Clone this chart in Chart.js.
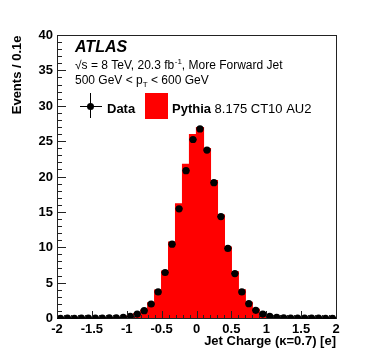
<!DOCTYPE html>
<html>
<head>
<meta charset="utf-8">
<script src="https://cdn.jsdelivr.net/npm/chart.js@4.4.1/dist/chart.umd.min.js"></script>
<style>
  html, body { margin: 0; padding: 0; background: #fff; }
  #wrap { width: 374px; height: 355px; }
</style>
</head>
<body>
<div id="wrap"><canvas id="c" width="374" height="355"></canvas></div>
<script>
// bin centres of the jet charge histogram (bin width 0.1 e)
const binCenters = [
  -1.95, -1.85, -1.75, -1.65, -1.55, -1.45, -1.35, -1.25, -1.15, -1.05,
  -0.95, -0.85, -0.75, -0.65, -0.55, -0.45, -0.35, -0.25, -0.15, -0.05,
   0.05,  0.15,  0.25,  0.35,  0.45,  0.55,  0.65,  0.75,  0.85,  0.95,
   1.05,  1.15,  1.25,  1.35,  1.45,  1.55,  1.65,  1.75,  1.85,  1.95
];
const binHalfWidth = 0.05;

// Data (black points)
const dataValues = [
  0.03, 0.04, 0.03, 0.05, 0.04, 0.05, 0.06, 0.08, 0.10, 0.15,
  0.30, 0.62, 1.10, 2.05, 3.75, 6.50, 10.5, 15.5, 20.9, 25.3,
  26.8, 23.8, 19.2, 14.4, 9.90, 6.35, 3.75, 2.10, 1.15, 0.62,
  0.30, 0.15, 0.10, 0.07, 0.06, 0.05, 0.04, 0.04, 0.03, 0.03
];

// Pythia 8.175 CT10 AU2 (red histogram)
const mcValues = [
  0.03, 0.04, 0.04, 0.05, 0.05, 0.06, 0.07, 0.09, 0.12, 0.18,
  0.35, 0.70, 1.20, 2.20, 4.00, 6.70, 10.8, 16.2, 21.8, 26.0,
  27.0, 24.0, 19.5, 14.6, 10.1, 6.60, 4.05, 2.30, 1.30, 0.70,
  0.35, 0.18, 0.12, 0.09, 0.07, 0.06, 0.05, 0.04, 0.04, 0.03
];

const yTicks = [0, 5, 10, 15, 20, 25, 30, 35, 40];
const xTicks = [-2, -1.5, -1, -0.5, 0, 0.5, 1, 1.5, 2];

const FONT = '"Liberation Sans", Arial, Helvetica, sans-serif';

const points = binCenters.map((x, i) => ({ x: x, y: dataValues[i] }));
const bars = binCenters.map((x, i) => ({ x: x, y: mcValues[i] }));

// ATLAS label, legend, frame, inner ticks and x error bars
// (lines are drawn as 1px filled rects)
const atlasDecor = {
  id: 'atlasDecor',
  afterDraw(chart) {
    const ctx = chart.ctx;
    const xs = chart.scales.x, ys = chart.scales.y;
    ctx.save();

    // ATLAS label
    ctx.fillStyle = '#000';
    ctx.textBaseline = 'alphabetic';
    ctx.textAlign = 'left';
    ctx.font = 'italic bold 16px ' + FONT;
    ctx.fillText('ATLAS', 75, 52);

    ctx.font = '12px ' + FONT;
    let x = 75, y = 69;
    let s = '\u221As = 8 TeV, 20.3 fb';
    ctx.fillText(s, x, y);
    x += ctx.measureText(s).width;
    ctx.font = '8px ' + FONT;
    ctx.fillText('-1', x + 0.5, y - 5);
    x += ctx.measureText('-1').width + 0.5;
    ctx.font = '12px ' + FONT;
    ctx.fillText(', More Forward Jet', x, y);

    x = 75; y = 84;
    s = '500 GeV < p';
    ctx.fillText(s, x, y);
    x += ctx.measureText(s).width;
    ctx.font = '8px ' + FONT;
    ctx.fillText('T', x, y + 3);
    x += ctx.measureText('T').width;
    ctx.font = '12px ' + FONT;
    ctx.fillText(' < 600 GeV', x, y);

    // legend
    ctx.font = 'bold 13px ' + FONT;
    ctx.fillText('Data', 107, 113);
    ctx.fillText('Pythia', 172, 113);
    const w = ctx.measureText('Pythia ').width;
    ctx.font = '13px ' + FONT;
    ctx.fillText('8.175 CT10 AU2', 172 + w, 113);

    ctx.fillStyle = '#ff0000';
    ctx.fillRect(145, 93, 23, 26);

    ctx.fillStyle = '#000';
    ctx.fillRect(80, 106, 22, 1);
    ctx.fillRect(90, 93, 1, 25);
    ctx.beginPath();
    ctx.arc(90.5, 106.5, 3.5, 0, Math.PI * 2);
    ctx.fill();

    // frame
    const L = Math.round(xs.getPixelForValue(-2));
    const R = Math.round(xs.getPixelForValue(2));
    const T = Math.floor(ys.getPixelForValue(40));
    const B = Math.floor(ys.getPixelForValue(0));
    ctx.fillStyle = '#222';
    ctx.fillRect(L, T, R - L + 1, 1);
    ctx.fillRect(L, B, R - L + 1, 1);
    ctx.fillRect(L, T, 1, B - T + 1);
    ctx.fillRect(R, T, 1, B - T + 1);

    // ticks inside the frame
    for (let v = 0; v <= 40; v += 1) {
      const row = Math.floor(ys.getPixelForValue(v));
      const len = v % 5 === 0 ? 9 : 5;
      ctx.fillRect(L, row, len, 1);
    }
    for (let k = -20; k <= 20; k++) {
      const col = Math.round(xs.getPixelForValue(k / 10));
      const len = k % 5 === 0 ? 8 : 4;
      ctx.fillRect(col, B - len + 1, 1, len);
    }

    // horizontal (bin width) bars on the data points
    ctx.fillStyle = '#000';
    binCenters.forEach((bx, i) => {
      const py = ys.getPixelForValue(dataValues[i]);
      const x1 = xs.getPixelForValue(bx - binHalfWidth);
      const x2 = xs.getPixelForValue(bx + binHalfWidth);
      ctx.fillRect(x1, py - 0.6, x2 - x1, 1.2);
    });

    ctx.restore();
  }
};

new Chart(document.getElementById('c'), {
  type: 'bar',
  data: {
    datasets: [
      {
        type: 'scatter',
        label: 'Data',
        data: points,
        backgroundColor: '#000',
        borderColor: '#000',
        pointRadius: 3.6,
        pointBorderWidth: 0,
        showLine: false
      },
      {
        type: 'bar',
        label: 'Pythia 8.175 CT10 AU2',
        data: bars,
        backgroundColor: '#ff0000',
        borderWidth: 0,
        inflateAmount: 0.6,
        barPercentage: 1.0,
        categoryPercentage: 1.0,
        grouped: false
      }
    ]
  },
  options: {
    responsive: false,
    devicePixelRatio: 1,
    animation: false,
    events: [],
    layout: { padding: { left: 0, right: 38, top: 35.5, bottom: 0 } },
    plugins: {
      legend: { display: false },
      tooltip: { enabled: false }
    },
    scales: {
      x: {
        type: 'linear',
        min: -2,
        max: 2,
        offset: false,
        afterFit: (s) => { s.height = 36.5; },
        afterBuildTicks: (s) => { s.ticks = xTicks.map(v => ({ value: v })); },
        grid: { display: false, drawTicks: false },
        border: { display: false },
        ticks: {
          color: '#000',
          padding: 3,
          maxRotation: 0,
          autoSkip: false,
          font: { family: FONT, size: 13, weight: 'bold' },
          callback: (v) => String(v)
        },
        title: {
          display: true,
          text: 'Jet Charge (\u03BA=0.7) [e]',
          align: 'end',
          color: '#000',
          font: { family: FONT, size: 13, weight: 'bold' },
          padding: { top: 0, bottom: 6 }
        }
      },
      y: {
        min: 0,
        max: 40,
        afterFit: (s) => { s.width = 57; },
        afterBuildTicks: (s) => { s.ticks = yTicks.map(v => ({ value: v })); },
        grid: { display: false, drawTicks: false },
        border: { display: false },
        ticks: {
          color: '#000',
          padding: 4,
          font: { family: FONT, size: 13, weight: 'bold' }
        },
        title: {
          display: true,
          text: 'Events / 0.1e',
          align: 'end',
          color: '#000',
          font: { family: FONT, size: 13, weight: 'bold' },
          padding: { top: 10, bottom: 0 }
        }
      }
    }
  },
  plugins: [atlasDecor]
});
</script>
</body>
</html>
